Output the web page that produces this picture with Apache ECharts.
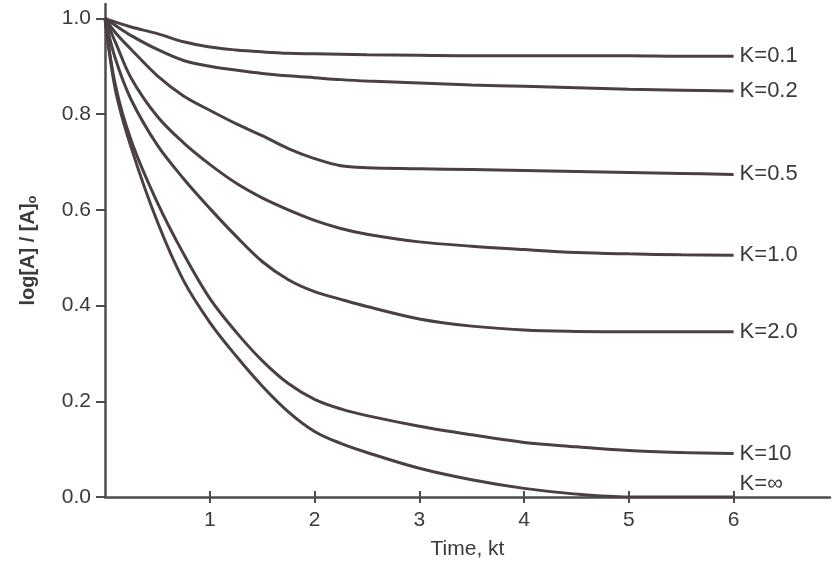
<!DOCTYPE html>
<html>
<head>
<meta charset="utf-8">
<script src="https://cdn.jsdelivr.net/npm/echarts@6/dist/echarts.min.js"></script>
<style>
html,body{margin:0;padding:0;background:#fff;}
#c{width:832px;height:565px;}
</style>
</head>
<body>
<div id="c"></div>
<script>
const times = [0, 0.1, 0.25, 0.5, 0.75, 1, 1.25, 1.5, 1.75, 2, 2.25, 2.5, 3, 3.5, 4, 4.5, 5, 5.5, 6];
const seriesNames = ['K=0.1', 'K=0.2', 'K=0.5', 'K=1.0', 'K=2.0', 'K=10', 'K=\u221e'];
const k01 = [1, 0.992, 0.982, 0.968, 0.951, 0.94, 0.934, 0.93, 0.927, 0.926, 0.925, 0.924, 0.923, 0.922, 0.922, 0.922, 0.922, 0.921, 0.921];
const k02 = [1, 0.985, 0.964, 0.935, 0.912, 0.9, 0.892, 0.885, 0.88, 0.876, 0.872, 0.869, 0.865, 0.861, 0.858, 0.855, 0.852, 0.85, 0.848];
const k05 = [1, 0.97, 0.935, 0.88, 0.838, 0.808, 0.78, 0.755, 0.728, 0.707, 0.692, 0.688, 0.686, 0.684, 0.682, 0.68, 0.678, 0.676, 0.674];
const k10 = [1, 0.95, 0.875, 0.795, 0.74, 0.695, 0.656, 0.625, 0.6, 0.578, 0.561, 0.549, 0.533, 0.524, 0.517, 0.511, 0.508, 0.506, 0.505];
const k20 = [1, 0.915, 0.83, 0.735, 0.665, 0.603, 0.545, 0.492, 0.454, 0.429, 0.413, 0.398, 0.372, 0.357, 0.349, 0.346, 0.345, 0.345, 0.345];
const k100 = [1, 0.86, 0.745, 0.615, 0.508, 0.415, 0.345, 0.285, 0.237, 0.204, 0.184, 0.17, 0.148, 0.13, 0.114, 0.105, 0.097, 0.093, 0.091];
const kinf = [1, 0.85, 0.73, 0.575, 0.452, 0.365, 0.295, 0.232, 0.178, 0.137, 0.112, 0.093, 0.06, 0.036, 0.018, 0.006, 0, 0, 0];
const xTicks = [1, 2, 3, 4, 5, 6];
const yTicks = [0, 0.2, 0.4, 0.6, 0.8, 1.0];

const allValues = [k01, k02, k05, k10, k20, k100, kinf];
const lineColor = '#4a3f42';
const axisColor = '#4d4d4d';
const textColor = '#3a3a3a';
const font = '"Liberation Sans", Arial, sans-serif';

const chart = echarts.init(document.getElementById('c'));
const series = allValues.map((vals, i) => ({
  name: seriesNames[i],
  type: 'line',
  data: times.map((t, j) => [t, vals[j]]),
  smooth: 0.35,
  showSymbol: false,
  symbol: 'none',
  lineStyle: { color: lineColor, width: 3 },
  endLabel: {
    show: true,
    formatter: seriesNames[i],
    color: textColor,
    fontFamily: font,
    fontSize: 22,
    distance: 6,
    offset: i === 6 ? [0, -13] : [0, 0]
  },
  silent: true,
  animation: false
}));

chart.setOption({
  animation: false,
  backgroundColor: '#fff',
  grid: { left: 105, right: 2, top: 4, bottom: 67 },
  xAxis: [{
    type: 'value',
    min: 0, max: 6.92,
    axisLine: { show: true, lineStyle: { color: axisColor, width: 2.5 } },
    axisTick: { show: true, length: 6, lineStyle: { color: axisColor, width: 2 }, customValues: xTicks },
    axisLabel: { color: textColor, fontFamily: font, fontSize: 21, margin: 13, customValues: xTicks },
    splitLine: { show: false },
    name: 'Time, kt',
    nameLocation: 'middle',
    nameGap: 42,
    nameTextStyle: { color: textColor, fontFamily: font, fontSize: 21 }
  }, {
    type: 'value',
    min: 0, max: 6.92,
    position: 'bottom',
    axisLine: { show: false },
    axisTick: { show: true, inside: true, length: 6, lineStyle: { color: axisColor, width: 2 }, customValues: xTicks },
    axisLabel: { show: false },
    splitLine: { show: false }
  }],
  yAxis: {
    type: 'value',
    min: 0, max: 1.03,
    axisLine: { show: true, lineStyle: { color: axisColor, width: 2.5 } },
    axisTick: { show: true, length: 9, lineStyle: { color: axisColor, width: 2 }, customValues: yTicks },
    axisLabel: { color: textColor, fontFamily: font, fontSize: 21, margin: 14, customValues: yTicks,
      formatter: v => v.toFixed(1) },
    splitLine: { show: false },
    name: 'log[A] / [A]{sub|o}',
    nameLocation: 'middle',
    nameGap: 66,
    nameTextStyle: { color: textColor, fontFamily: font, fontSize: 20, fontWeight: 'bold',
      rich: { sub: { fontSize: 13, color: textColor, fontFamily: font, fontWeight: 'bold', verticalAlign: 'bottom', padding: [9, 0, 0, 0] } } }
  },
  series: series
});
</script>
</body>
</html>
